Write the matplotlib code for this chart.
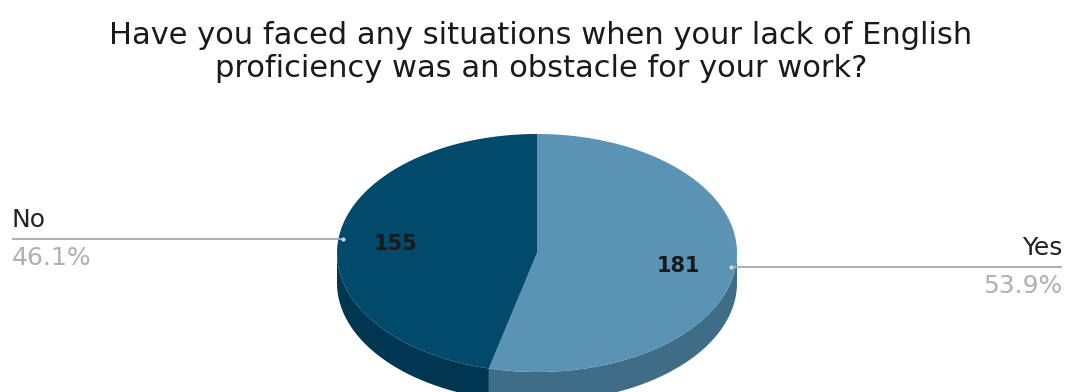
import matplotlib
matplotlib.use('Agg')
import matplotlib.pyplot as plt
from matplotlib.patches import Polygon
import numpy as np

# data
labels = ["Yes", "No"]
counts = [181, 155]
top_colors = ["#5b93b4", "#014a6b"]
side_colors = ["#3f6c86", "#003650"]

title = ("Have you faced any situations when your lack of English\n"
         "proficiency was an obstacle for your work?")

W, H = 1067, 392
fig = plt.figure(figsize=(W / 100, H / 100), dpi=100)
fig.patch.set_facecolor("white")
ax = fig.add_axes([0, 0, 1, 1])
ax.set_xlim(0, W)
ax.set_ylim(H, 0)
ax.axis("off")

# pie geometry (pixel space, y down)
cx, cy = 537, 253
a, b = 200, 119
depth = 30


def pt(theta, dy=0.0):
    # theta in degrees, clockwise from 12 o'clock
    t = np.radians(theta)
    return cx + a * np.sin(t), cy - b * np.cos(t) + dy


fracs = np.array(counts) / np.sum(counts)
bounds = np.concatenate([[0], np.cumsum(fracs) * 360])

# side walls (front half only: 90..270 deg)
for i in range(len(counts)):
    t0, t1 = max(bounds[i], 90), min(bounds[i + 1], 270)
    if t1 <= t0:
        continue
    th = np.linspace(t0, t1, 80)
    upper = [pt(t) for t in th]
    lower = [pt(t, depth) for t in th[::-1]]
    ax.add_patch(Polygon(upper + lower, closed=True, facecolor=side_colors[i],
                         edgecolor="none"))

# top faces
for i in range(len(counts)):
    th = np.linspace(bounds[i], bounds[i + 1], 200)
    verts = [(cx, cy)] + [pt(t) for t in th]
    ax.add_patch(Polygon(verts, closed=True, facecolor=top_colors[i],
                         edgecolor="none"))

# value labels on slices
ax.text(678, 266, str(counts[0]), ha="center", va="center", fontsize=15,
        fontweight="bold", color="#1a1a1a", family="DejaVu Sans")
ax.text(396, 244, str(counts[1]), ha="center", va="center", fontsize=15,
        fontweight="bold", color="#1a1a1a", family="DejaVu Sans")

# leader lines + outside labels
for i in range(len(counts)):
    mid = (bounds[i] + bounds[i + 1]) / 2
    x0, y0 = pt(mid)
    right = np.sin(np.radians(mid)) > 0
    x0 += -5 if right else 5
    x1 = 1062 if right else 12
    ax.plot([x0, x1], [y0, y0], color="#a8a8a8", lw=1.3, solid_capstyle="butt")
    ax.plot([x0], [y0], "o", ms=3, color="#c8d6de", mec="none")
    ha = "right" if right else "left"
    ax.text(x1, y0 - 7, labels[i], ha=ha, va="bottom", fontsize=18,
            color="#222222", family="DejaVu Sans")
    ax.text(x1, y0 + 7, f"{fracs[i] * 100:.1f}%", ha=ha, va="top", fontsize=18,
            color="#b0b0b0", family="DejaVu Sans")

# title
ax.text(541, 52, title, ha="center", va="center", fontsize=22,
        color="#1a1a1a", family="DejaVu Sans", linespacing=1.15)

fig.savefig("out.png", dpi=100, facecolor="white")
plt.close(fig)
